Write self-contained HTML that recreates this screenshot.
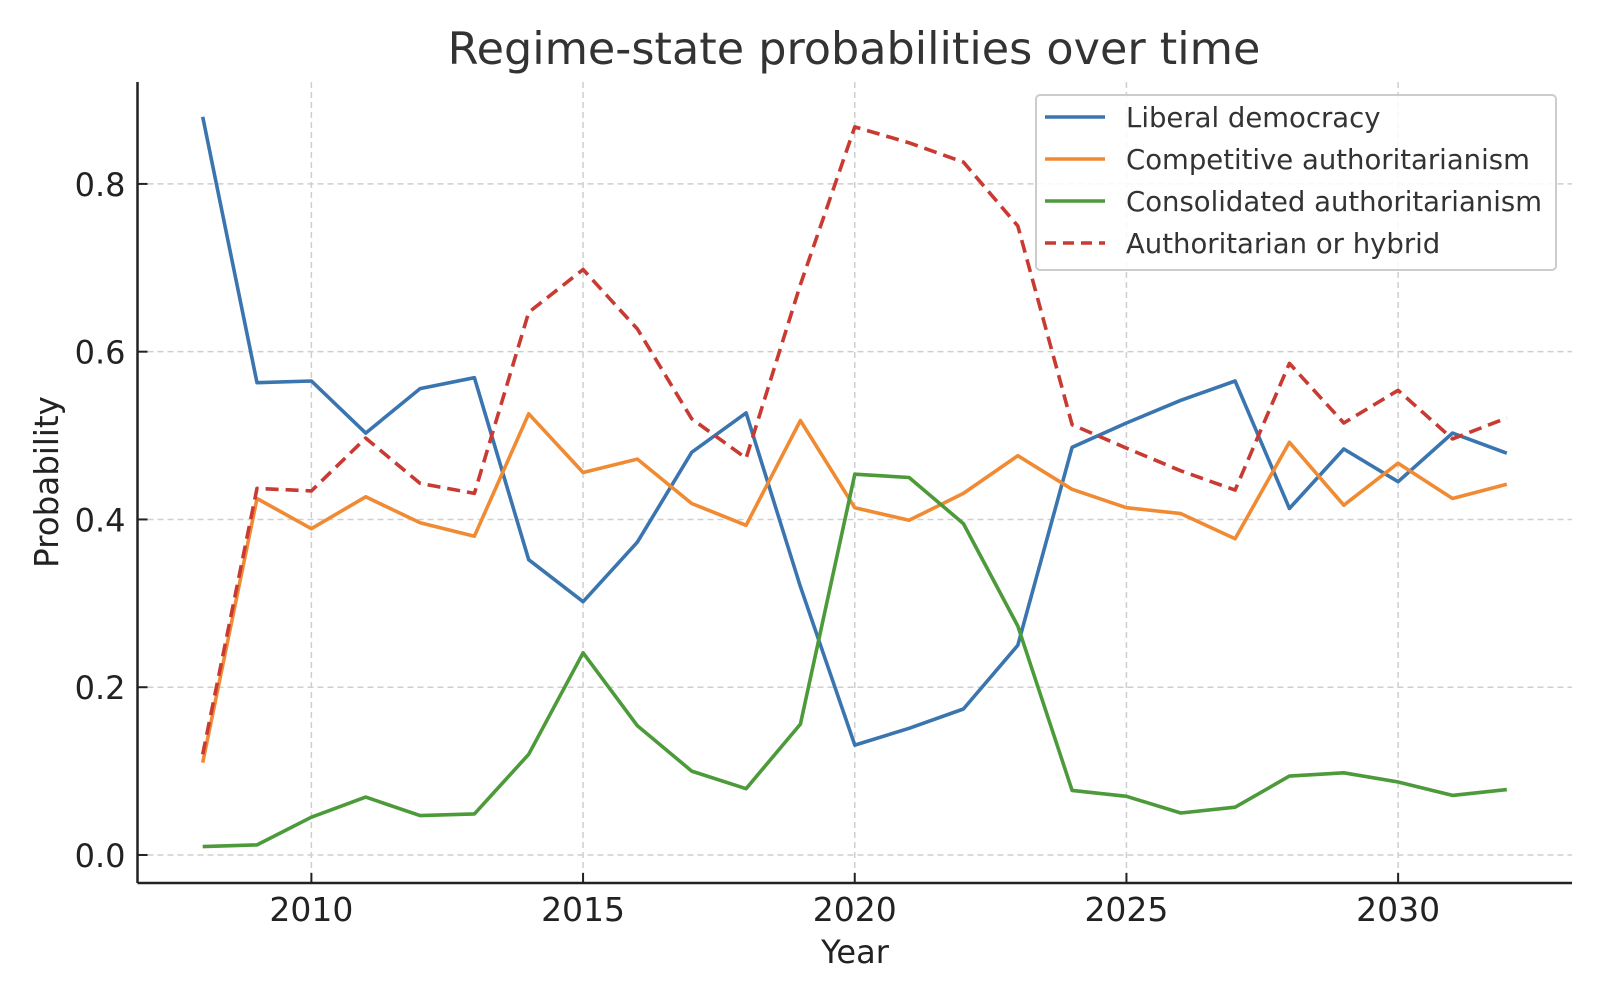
<!DOCTYPE html>
<html><head><meta charset="utf-8"><style>
html,body{margin:0;padding:0;background:#fff;}
svg{display:block;font-family:"DejaVu Sans","Liberation Sans",sans-serif;}
</style></head><body>
<svg id="chart" width="1600" height="1000" viewBox="0 0 1600 1000">
<text x="854" y="64" text-anchor="middle" font-size="44.5" fill="#333">Regime-state probabilities over time</text>
<g id="grid"></g>
<g id="series"></g>
<g id="axes"></g>
<text x="855" y="963" text-anchor="middle" font-size="32" fill="#222">Year</text>
<text transform="translate(58,482) rotate(-90)" text-anchor="middle" font-size="32.5" fill="#222">Probability</text>
<g id="legend">
<rect x="1036" y="95" width="520" height="175" rx="4" fill="#fff" fill-opacity="0.85" stroke="#ccc" stroke-width="2"/>
</g>
</svg>
<script>
const years=[2008,2009,2010,2011,2012,2013,2014,2015,2016,2017,2018,2019,2020,2021,2022,2023,2024,2025,2026,2027,2028,2029,2030,2031,2032];
const liberal=[.88,.563,.565,.503,.556,.569,.352,.302,.373,.48,.527,.32,.131,.151,.174,.25,.486,.515,.542,.565,.413,.484,.445,.503,.479];
const competitive=[.11,.425,.389,.427,.396,.38,.526,.456,.472,.419,.393,.518,.414,.399,.431,.476,.436,.414,.407,.377,.492,.417,.467,.425,.442];
const consolidated=[.01,.012,.045,.069,.047,.049,.12,.241,.154,.1,.079,.156,.454,.45,.395,.273,.077,.07,.05,.057,.094,.098,.087,.071,.078];
const hybrid=[.12,.437,.434,.497,.443,.431,.647,.698,.627,.52,.473,.68,.868,.849,.826,.75,.513,.485,.458,.435,.586,.515,.554,.496,.521];
const xTicks=[2010,2015,2020,2025,2030];
const yTicks=[0,0.2,0.4,0.6,0.8];
const yTickLabels=["0.0","0.2","0.4","0.6","0.8"];
const seriesNames=["Liberal democracy","Competitive authoritarianism","Consolidated authoritarianism","Authoritarian or hybrid"];

const NS="http://www.w3.org/2000/svg";
const L=137.5,R=1572,T=82,B=883;
const xMin=2006.8,xMax=2033.2,yMin=-0.0334,yMax=0.9215;
const xs=v=>L+(v-xMin)/(xMax-xMin)*(R-L);
const ys=v=>B-(v-yMin)/(yMax-yMin)*(B-T);
function mk(tag,attrs,parent){const e=document.createElementNS(NS,tag);for(const k in attrs)e.setAttribute(k,attrs[k]);parent.appendChild(e);return e;}
const grid=document.getElementById('grid'),axes=document.getElementById('axes'),ser=document.getElementById('series'),leg=document.getElementById('legend');
xTicks.forEach(t=>{
  const g=mk('line',{x1:xs(t),x2:xs(t),y1:T,y2:B,stroke:'#cfcfcf','stroke-width':1.5,'stroke-dasharray':'6,4'},grid);
  
  
  const tk=mk('line',{x1:xs(t),x2:xs(t),y1:B,y2:B-10,stroke:'#222','stroke-width':2},axes);
  
  
  const lb=mk('text',{x:xs(t),y:B+38,'text-anchor':'middle','font-size':33,fill:'#222'},axes);
  lb.textContent=t;
  
  
});
yTicks.forEach((t,i)=>{
  const g=mk('line',{x1:L,x2:R,y1:ys(t),y2:ys(t),stroke:'#cfcfcf','stroke-width':1.5,'stroke-dasharray':'6,4'},grid);
  
  
  const tk=mk('line',{x1:L,x2:L+10,y1:ys(t),y2:ys(t),stroke:'#222','stroke-width':2},axes);
  
  
  const lb=mk('text',{x:L-12,y:ys(t)+12,'text-anchor':'end','font-size':32,fill:'#222'},axes);
  lb.textContent=yTickLabels[i];
  
  
});
const sp1=mk('line',{x1:L,x2:L,y1:T,y2:B,stroke:'#222','stroke-width':2.5},axes);


const sp2=mk('line',{x1:L,x2:R,y1:B,y2:B,stroke:'#222','stroke-width':2.5},axes);


const all=[liberal,competitive,consolidated,hybrid];
const colors=['#3a75b0','#f08a33','#4c9a3a','#c83a32'];
const dashes=[null,null,null,'13,7'];
const ids=['liberal-democracy-line','competitive-authoritarianism-line','consolidated-authoritarianism-line','authoritarian-or-hybrid-line'];
all.forEach((arr,i)=>{
  const pts=arr.map((v,j)=>xs(years[j]).toFixed(1)+','+ys(v).toFixed(1)).join(' ');
  const a={points:pts,fill:'none',stroke:colors[i],'stroke-width':3.6,'stroke-linejoin':'round'};
  if(dashes[i])a['stroke-dasharray']=dashes[i];
  const p=mk('polyline',a,ser);
  
  
});
const ly=[117,159,201,243];
seriesNames.forEach((n,i)=>{
  const a={x1:1045,x2:1105,y1:ly[i],y2:ly[i],stroke:colors[i],'stroke-width':3.6};
  if(dashes[i])a['stroke-dasharray']='11,7';
  const l=mk('line',a,leg);
  
  
  const t=mk('text',{x:1126,y:ly[i]+10,'font-size':27.5,fill:'#333'},leg);
  t.textContent=n;
  
  
});
</script>
</body></html>
